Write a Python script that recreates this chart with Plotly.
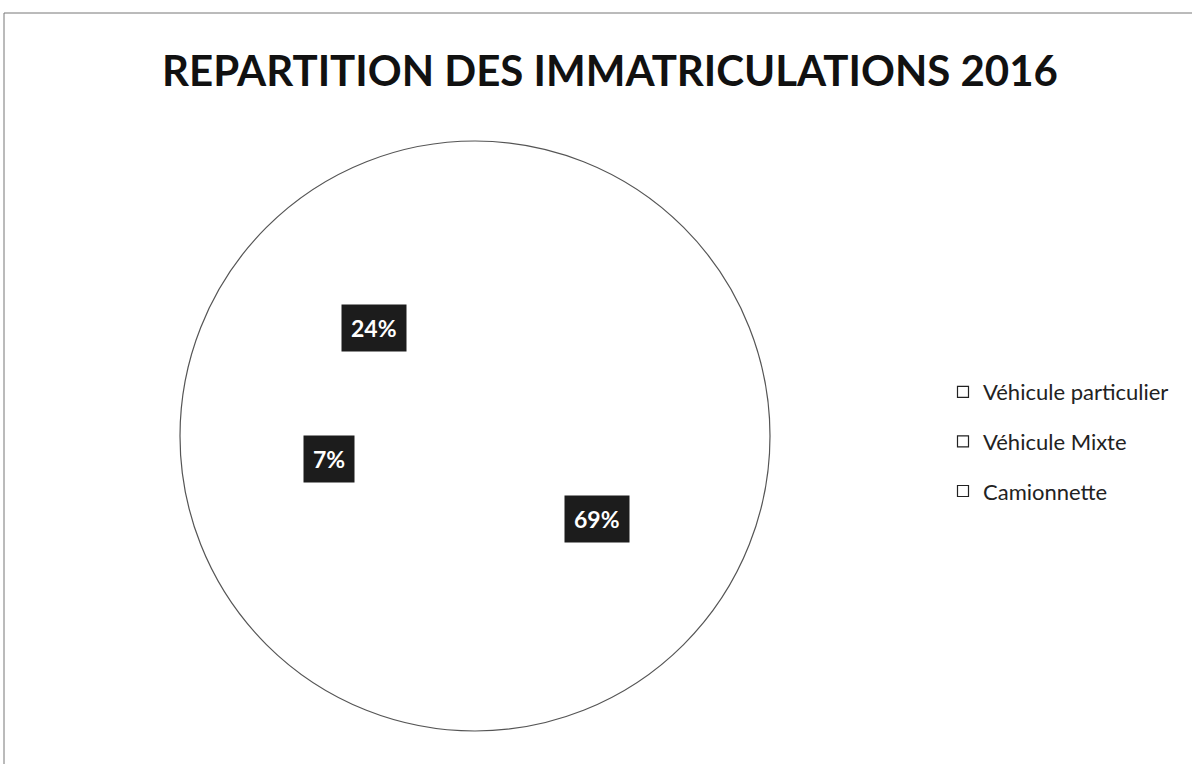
import math
import plotly.graph_objects as go

# ---- data ----
categories = ["Véhicule particulier", "Véhicule Mixte", "Camionnette"]
values = [69, 7, 24]
title_text = "REPARTITION DES IMMATRICULATIONS 2016"

W, H = 1192, 764
CX, CY, R = 475, 436, 295  # pixel centre / radius of the pie

dom_x = [(CX - R) / W, (CX + R) / W]
dom_y = [(H - CY - R) / H, (H - CY + R) / H]

fig = go.Figure()

# slices (white, no borders)
fig.add_trace(go.Pie(
    labels=categories, values=values, sort=False, direction="clockwise",
    rotation=0, textinfo="none", showlegend=False,
    marker=dict(colors=["white"] * len(values), line=dict(width=0)),
    domain=dict(x=dom_x, y=dom_y), hoverinfo="label+percent",
))
# outer outline of the whole pie
fig.add_trace(go.Pie(
    labels=["total"], values=[sum(values)], sort=False, textinfo="none",
    showlegend=False, hoverinfo="skip",
    marker=dict(colors=["rgba(0,0,0,0)"], line=dict(color="#555", width=1.2)),
    domain=dict(x=dom_x, y=dom_y),
))

# legend entries (hollow squares)
for i, c in enumerate(categories):
    fig.add_trace(go.Scatter(
        x=[None], y=[None], mode="markers", name=c, legendgroup=str(i),
        marker=dict(symbol="square", size=11, color="white",
                    line=dict(color="#222", width=1.2)),
    ))

# data labels: dark boxes, placed at half radius at slice middle angle
total = sum(values)
cum = 0
annotations = []
for v in values:
    theta = (cum + v / 2) / total * 2 * math.pi
    cum += v
    px = CX + 0.5 * R * math.sin(theta)
    py = CY - 0.5 * R * math.cos(theta)
    annotations.append(dict(
        x=px / W, y=1 - py / H, xref="paper", yref="paper",
        text=f"{round(v / total * 100)}%", showarrow=False,
        font=dict(family="Lato", size=23, color="white", weight=700),
        bgcolor="#1c1c1c", borderpad=9, xanchor="center", yanchor="middle",
    ))

fig.update_layout(
    width=W, height=H,
    margin=dict(l=0, r=0, t=0, b=0),
    paper_bgcolor="white", plot_bgcolor="white",
    title=dict(text=title_text, x=610 / W, xanchor="center",
               y=1 - 71 / H, yanchor="middle",
               font=dict(family="Lato", size=42, color="#111", weight=700)),
    xaxis=dict(visible=False), yaxis=dict(visible=False),
    legend=dict(x=943 / W, xanchor="left", y=1 - 371 / H, yanchor="top",
                font=dict(family="Lato", size=22, color="#222"),
                tracegroupgap=18, bgcolor="rgba(0,0,0,0)"),
    annotations=annotations,
    shapes=[dict(type="rect", xref="paper", yref="paper",
                 x0=4 / W, x1=1.02, y0=-0.02, y1=1 - 13 / H,
                 line=dict(color="#777", width=1))],
)

fig.write_html("out.html", config={"displayModeBar": False},
               post_script="document.body.style.margin='0';")
